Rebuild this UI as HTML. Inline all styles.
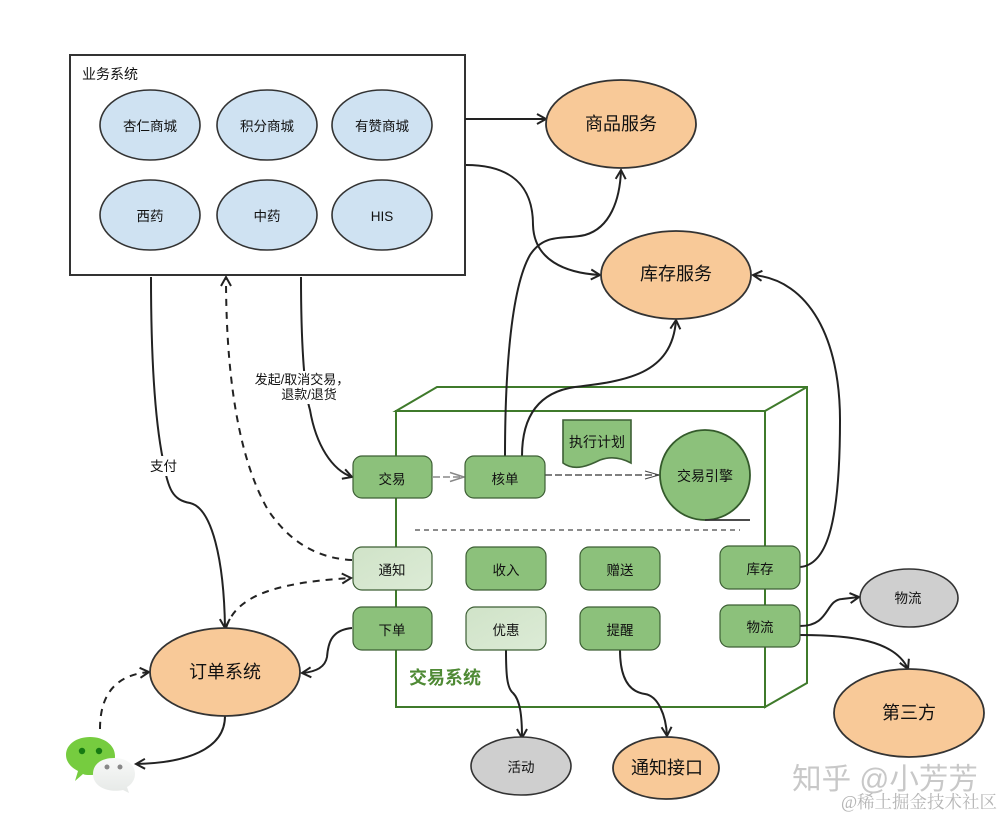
<!DOCTYPE html>
<html><head><meta charset="utf-8">
<style>
html,body{margin:0;padding:0;background:#fff}
svg{display:block}
text{font-family:"Liberation Sans","Noto Sans CJK SC",sans-serif;fill:#111;text-anchor:middle}
</style></head>
<body>
<svg width="1004" height="819" viewBox="0 0 1004 819" xmlns="http://www.w3.org/2000/svg">
<defs>
<linearGradient id="pale" x1="0" y1="0" x2="1" y2="1"><stop offset="0" stop-color="#d0e3c8"/><stop offset="1" stop-color="#dcebd6"/></linearGradient>
<linearGradient id="wb" x1="0" y1="0" x2="0" y2="1"><stop offset="0" stop-color="#f8f9f8"/><stop offset="1" stop-color="#e6e9e7"/></linearGradient>
<marker id="a" markerWidth="16" markerHeight="16" refX="12" refY="7" orient="auto" markerUnits="userSpaceOnUse"><path d="M3,2 L12,7 L3,12" fill="none" stroke="#222" stroke-width="2"/></marker>
<marker id="o" markerWidth="18" markerHeight="14" refX="15" refY="6" orient="auto" markerUnits="userSpaceOnUse"><path d="M1,2 L15,6 L1,10" fill="none" stroke="#444" stroke-width="1"/></marker>
<marker id="og" markerWidth="18" markerHeight="14" refX="15" refY="6" orient="auto" markerUnits="userSpaceOnUse"><path d="M1,1.500 L15,6 L1,10.500" fill="none" stroke="#888" stroke-width="1.500"/></marker>
</defs>
<rect width="1004" height="819" fill="#fff"/>

<!-- green cube -->
<g fill="#fff" stroke="#3f7a2b" stroke-width="2">
<path d="M396,411 L437,387 L807,387 L807,683 L765,707 L765,411 Z"/>
<rect x="396" y="411" width="369" height="296"/>
<path d="M765,411 L807,387" fill="none"/>
</g>
<text x="445" y="684" font-size="18" font-weight="bold" style="fill:#4f8a35">交易系统</text>
<line x1="415" y1="530" x2="740" y2="530" stroke="#666" stroke-width="1.400" stroke-dasharray="5 4"/>

<!-- business box -->
<rect x="70" y="55" width="395" height="220" fill="#fff" stroke="#333" stroke-width="2"/>
<text x="110" y="79" font-size="14">业务系统</text>
<g fill="#cfe2f2" stroke="#333" stroke-width="1.600">
<ellipse cx="150" cy="125" rx="50" ry="35"/><ellipse cx="267" cy="125" rx="50" ry="35"/><ellipse cx="382" cy="125" rx="50" ry="35"/>
<ellipse cx="150" cy="215" rx="50" ry="35"/><ellipse cx="267" cy="215" rx="50" ry="35"/><ellipse cx="382" cy="215" rx="50" ry="35"/>
</g>
<g font-size="13.500">
<text x="150" y="131">杏仁商城</text><text x="267" y="131">积分商城</text><text x="382" y="131">有赞商城</text>
<text x="150" y="221">西药</text><text x="267" y="221">中药</text><text x="382" y="221">HIS</text>
</g>

<!-- connectors -->
<g fill="none" stroke="#222" stroke-width="2">
<path d="M465,119 L546,119" marker-end="url(#a)"/>
<path d="M466,165 C510,165 533,185 533,225 C534,260 565,273 600,275" marker-end="url(#a)"/>
<path d="M505,456 C505,380 510,290 530,255 C545,232 565,240 585,235 C610,228 620,200 621,170" marker-end="url(#a)"/>
<path d="M522,456 C522,415 540,392 575,387 C625,381 672,375 676,320" marker-end="url(#a)"/>
<path d="M800,567 C825,565 840,530 840,420 C840,340 810,280 753,275" marker-end="url(#a)"/>
<path d="M151,277 C151,360 155,420 163,460 C168,490 173,500 190,503 C212,508 224,560 225,628" marker-end="url(#a)"/>
<path d="M301,277 C301,340 304,390 310,410 C316,445 332,470 352,477" marker-end="url(#a)"/>
<path d="M352,628 C330,630 328,645 327,657 C325,668 315,672 302,673" marker-end="url(#a)"/>
<path d="M225,716 C225,750 185,763 136,764" marker-end="url(#a)"/>
<path d="M506,650 C506,675 507,688 513,693 C520,700 522,715 522,738" marker-end="url(#a)"/>
<path d="M620,650 C620,680 630,692 645,694 C658,696 666,715 667,736" marker-end="url(#a)"/>
<path d="M800,626 C830,626 825,600 842,599 L859,597" marker-end="url(#a)"/>
<path d="M800,635 C850,635 895,640 908,669" marker-end="url(#a)"/>
</g>
<g fill="none" stroke="#222" stroke-width="2" stroke-dasharray="7 6">
<path d="M352,560 C310,558 285,535 268,510 C245,470 226,400 226,277" marker-end="url(#a)"/>
<path d="M226,628 C235,600 265,583 351,578" marker-end="url(#a)"/>
<path d="M100,729 C100,695 115,675 149,672" marker-end="url(#a)"/>
</g>
<path d="M433,477 L464,477" fill="none" stroke="#888" stroke-width="1.600" stroke-dasharray="7 3" marker-end="url(#og)"/>
<path d="M545,475 L659,475" fill="none" stroke="#555" stroke-width="1.400" stroke-dasharray="7 3" marker-end="url(#o)"/>

<!-- connector labels -->
<rect x="150" y="456" width="27" height="20" fill="#fff"/>
<rect x="254" y="371" width="95" height="33" fill="#fff"/>
<text x="163.500" y="471" font-size="13.500">支付</text>
<text x="302" y="384" font-size="13">发起/取消交易，</text>
<text x="309" y="399" font-size="13">退款/退货</text>

<!-- green nodes -->
<g stroke="#3d5f35" stroke-width="1.200">
<rect x="353" y="456" width="79" height="42" rx="9" fill="#8cc17b"/>
<rect x="465" y="456" width="80" height="42" rx="9" fill="#8cc17b"/>
<rect x="353" y="547" width="79" height="43" rx="9" fill="url(#pale)"/>
<rect x="466" y="547" width="80" height="43" rx="9" fill="#8cc17b"/>
<rect x="580" y="547" width="80" height="43" rx="9" fill="#8cc17b"/>
<rect x="720" y="546" width="80" height="43" rx="9" fill="#8cc17b"/>
<rect x="353" y="607" width="79" height="43" rx="9" fill="#8cc17b"/>
<rect x="466" y="607" width="80" height="43" rx="9" fill="url(#pale)"/>
<rect x="580" y="607" width="80" height="43" rx="9" fill="#8cc17b"/>
<rect x="720" y="605" width="80" height="42" rx="9" fill="#8cc17b"/>
</g>
<g font-size="13.500">
<text x="392" y="484">交易</text><text x="505" y="484">核单</text>
<text x="392" y="575">通知</text><text x="506" y="575">收入</text><text x="620" y="575">赠送</text><text x="760" y="574">库存</text>
<text x="392" y="635">下单</text><text x="506" y="635">优惠</text><text x="620" y="635">提醒</text><text x="760" y="632">物流</text>
</g>

<!-- doc and engine -->
<path d="M563,420 L631,420 L631,463 C618,456 608,457 600,460 C590,465 575,472 563,463 Z" fill="#8cc17b" stroke="#3d5f35" stroke-width="1.600"/>
<text x="597" y="447" font-size="14">执行计划</text>
<circle cx="705" cy="475" r="45" fill="#8cc17b" stroke="#345a2b" stroke-width="1.800"/>
<line x1="705" y1="520" x2="750" y2="520" stroke="#333" stroke-width="1.800"/>
<text x="705" y="481" font-size="14">交易引擎</text>

<!-- orange and gray ellipses -->
<g fill="#f8c998" stroke="#333" stroke-width="1.800">
<ellipse cx="621" cy="124" rx="75" ry="44"/>
<ellipse cx="676" cy="275" rx="75" ry="44"/>
<ellipse cx="225" cy="672" rx="75" ry="44"/>
<ellipse cx="909" cy="713" rx="75" ry="44"/>
<ellipse cx="666" cy="768" rx="53" ry="31"/>
</g>
<g fill="#cfcfcf" stroke="#333" stroke-width="1.600">
<ellipse cx="521" cy="766" rx="50" ry="29"/>
<ellipse cx="909" cy="598" rx="49" ry="29"/>
</g>
<g font-size="18">
<text x="621" y="130">商品服务</text><text x="676" y="280">库存服务</text><text x="225" y="678">订单系统</text>
<text x="909" y="719">第三方</text><text x="667" y="774">通知接口</text>
</g>
<g font-size="13.500"><text x="521" y="772">活动</text><text x="908" y="603">物流</text></g>

<!-- wechat icon -->
<path d="M75,781 L78,771 C70,767 66,761 66,755 C66,744 77,737 90,737 C104,737 115,745 115,756 C115,768 103,775 90,775 C87,775 85,775 83,774 Z" fill="#76cc3f"/>
<circle cx="82" cy="751" r="3.200" fill="#167a12"/><circle cx="99" cy="751" r="3.200" fill="#167a12"/>
<path d="M129,793 L123,790 C108,793 93,787 93,774 C93,763 103,758 114,758 C126,758 135,764 135,774 C135,780 131,785 127,787 Z" fill="url(#wb)"/>
<circle cx="107" cy="767" r="2.500" fill="#888"/><circle cx="120" cy="767" r="2.500" fill="#888"/>

<!-- watermark -->
<text x="885" y="789" font-size="29.500" style="fill:#c8c8c8">知乎 @小芳芳</text>
<text x="919" y="808" font-size="17.500" style="fill:#b5b5b5;font-family:'Liberation Serif','Noto Serif CJK SC',serif">@稀土掘金技术社区</text>
</svg>
</body></html>
